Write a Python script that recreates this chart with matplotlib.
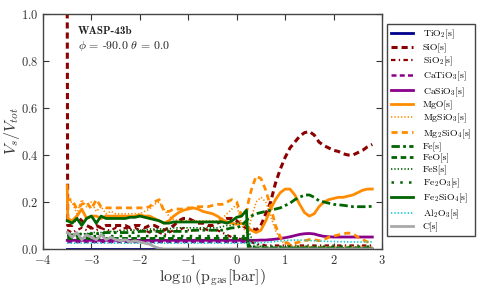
import numpy as np
import matplotlib
matplotlib.use("Agg")
import matplotlib.pyplot as plt

plt.rcParams['font.family'] = 'serif'
plt.rcParams['font.serif'] = ['cmr10']
plt.rcParams['mathtext.fontset'] = 'cm'
plt.rcParams['axes.formatter.use_mathtext'] = True
plt.rcParams['axes.unicode_minus'] = True

# log10 gas pressure grid [bar]
log_p = [-3.5, -3.49,
         -3.4, -3.3, -3.2, -3.1, -3.0, -2.9, -2.8, -2.7, -2.6, -2.5,
         -2.4, -2.3, -2.2, -2.1, -2.0, -1.9, -1.8, -1.7, -1.6, -1.5,
         -1.4, -1.3, -1.2, -1.1, -1.0, -0.9, -0.8, -0.7, -0.6, -0.5,
         -0.4, -0.3, -0.2, -0.1, 0.0, 0.1, 0.2, 0.24,
         0.3, 0.4, 0.5, 0.6, 0.7, 0.8, 0.9, 1.0, 1.1, 1.2,
         1.3, 1.4, 1.5, 1.6, 1.7, 1.8, 1.9, 2.0, 2.1, 2.2,
         2.3, 2.4, 2.5, 2.6, 2.7, 2.8]

TiO2 = [0.002, 0.002,
        0.002, 0.002, 0.002, 0.002, 0.002, 0.002, 0.002, 0.002, 0.002, 0.002,
        0.002, 0.002, 0.002, 0.002, 0.002, 0.002, 0.002, 0.002, 0.002, 0.002,
        0.002, 0.002, 0.002, 0.002, 0.002, 0.002, 0.002, 0.002, 0.002, 0.002,
        0.002, 0.002, 0.002, 0.002, 0.002, 0.002, 0.002, 0.002,
        0.002, 0.002, 0.002, 0.002, 0.002, 0.002, 0.002, 0.002, 0.002, 0.002,
        0.002, 0.002, 0.002, 0.002, 0.002, 0.002, 0.002, 0.002, 0.002, 0.002,
        0.002, 0.002, 0.002, 0.002, 0.002, 0.002]
SiO = [1.05, 0.10,
       0.10, 0.14, 0.12, 0.10, 0.09, 0.10, 0.09, 0.10, 0.10, 0.10,
       0.10, 0.10, 0.09, 0.10, 0.10, 0.09, 0.10, 0.10, 0.09, 0.08,
       0.09, 0.10, 0.12, 0.13, 0.13, 0.12, 0.11, 0.11, 0.10, 0.10,
       0.11, 0.12, 0.13, 0.13, 0.12, 0.10, 0.09, 0.09,
       0.09, 0.08, 0.10, 0.15, 0.20, 0.28, 0.34, 0.39, 0.43, 0.455,
       0.48, 0.495, 0.50, 0.485, 0.455, 0.44, 0.43, 0.42, 0.415, 0.405,
       0.40, 0.40, 0.41, 0.42, 0.435, 0.445]
SiO2 = [0.08, 0.08,
        0.07, 0.08, 0.09, 0.08, 0.09, 0.08, 0.09, 0.08, 0.08, 0.09,
        0.08, 0.09, 0.08, 0.09, 0.08, 0.08, 0.07, 0.08, 0.07, 0.06,
        0.07, 0.08, 0.08, 0.09, 0.08, 0.08, 0.08, 0.09, 0.08, 0.08,
        0.08, 0.07, 0.06, 0.05, 0.05, 0.04, 0.03, 0.03,
        0.03, 0.02, 0.02, 0.015, 0.015, 0.015, 0.015, 0.015, 0.015, 0.015,
        0.015, 0.015, 0.015, 0.015, 0.015, 0.015, 0.015, 0.015, 0.015, 0.015,
        0.015, 0.015, 0.015, 0.015, 0.015, 0.015]
CaTiO3 = [0.03, 0.03,
          0.03, 0.03, 0.03, 0.03, 0.03, 0.03, 0.03, 0.03, 0.03, 0.03,
          0.03, 0.03, 0.03, 0.03, 0.03, 0.03, 0.03, 0.03, 0.03, 0.03,
          0.03, 0.03, 0.03, 0.03, 0.03, 0.03, 0.03, 0.03, 0.03, 0.03,
          0.03, 0.03, 0.03, 0.03, 0.03, 0.03, 0.03, 0.02,
          0.005, 0.003, 0.002, 0.002, 0.002, 0.002, 0.002, 0.002, 0.002, 0.002,
          0.002, 0.002, 0.002, 0.002, 0.002, 0.002, 0.002, 0.002, 0.002, 0.002,
          0.002, 0.002, 0.002, 0.002, 0.002, 0.002]
CaSiO3 = [0.037, 0.037,
          0.037, 0.037, 0.037, 0.037, 0.037, 0.037, 0.037, 0.037, 0.037, 0.037,
          0.037, 0.037, 0.037, 0.037, 0.037, 0.037, 0.037, 0.037, 0.037, 0.037,
          0.037, 0.037, 0.037, 0.037, 0.037, 0.037, 0.037, 0.037, 0.037, 0.037,
          0.037, 0.037, 0.037, 0.037, 0.037, 0.037, 0.037, 0.037,
          0.037, 0.037, 0.038, 0.038, 0.040, 0.042, 0.045, 0.048, 0.052, 0.057,
          0.062, 0.065, 0.066, 0.064, 0.058, 0.054, 0.052, 0.051, 0.051, 0.051,
          0.051, 0.051, 0.051, 0.051, 0.051, 0.051]
MgO = [0.27, 0.13,
       0.12, 0.14, 0.17, 0.13, 0.14, 0.14, 0.13, 0.14, 0.14, 0.14,
       0.14, 0.14, 0.14, 0.14, 0.145, 0.14, 0.14, 0.13, 0.12, 0.11,
       0.12, 0.14, 0.155, 0.165, 0.17, 0.175, 0.17, 0.16, 0.155, 0.15,
       0.14, 0.125, 0.115, 0.11, 0.105, 0.11, 0.10, 0.09,
       0.08, 0.07, 0.08, 0.12, 0.17, 0.21, 0.24, 0.255, 0.255, 0.23,
       0.19, 0.155, 0.14, 0.15, 0.18, 0.20, 0.21, 0.215, 0.22, 0.22,
       0.225, 0.23, 0.24, 0.25, 0.255, 0.255]
MgSiO3 = [0.20, 0.20,
          0.20, 0.15, 0.21, 0.18, 0.20, 0.16, 0.18, 0.15, 0.16, 0.15,
          0.15, 0.15, 0.15, 0.15, 0.15, 0.16, 0.17, 0.19, 0.20, 0.17,
          0.14, 0.125, 0.12, 0.12, 0.12, 0.12, 0.12, 0.12, 0.12, 0.12,
          0.12, 0.13, 0.15, 0.17, 0.19, 0.10, 0.07, 0.08,
          0.13, 0.20, 0.22, 0.20, 0.14, 0.08, 0.04, 0.02, 0.015, 0.012,
          0.01, 0.01, 0.01, 0.01, 0.01, 0.01, 0.01, 0.01, 0.01, 0.01,
          0.01, 0.01, 0.01, 0.01, 0.01, 0.01]
Mg2SiO4 = [0.20, 0.21,
           0.21, 0.17, 0.19, 0.20, 0.17, 0.21, 0.18, 0.175, 0.175, 0.175,
           0.175, 0.175, 0.175, 0.175, 0.175, 0.175, 0.18, 0.20, 0.21, 0.16,
           0.16, 0.17, 0.17, 0.17, 0.175, 0.175, 0.18, 0.18, 0.18, 0.185,
           0.19, 0.19, 0.20, 0.21, 0.20, 0.14, 0.15, 0.20,
           0.25, 0.31, 0.30, 0.25, 0.18, 0.10, 0.05, 0.03, 0.02, 0.025,
           0.03, 0.035, 0.04, 0.04, 0.035, 0.04, 0.05, 0.055, 0.06, 0.065,
           0.068, 0.065, 0.05, 0.04, 0.03, 0.025]
Fe = [0.06, 0.06,
      0.06, 0.06, 0.065, 0.06, 0.065, 0.065, 0.065, 0.07, 0.07, 0.07,
      0.07, 0.07, 0.07, 0.07, 0.075, 0.075, 0.075, 0.075, 0.075, 0.075,
      0.075, 0.075, 0.075, 0.075, 0.075, 0.08, 0.08, 0.08, 0.08, 0.08,
      0.08, 0.08, 0.085, 0.09, 0.09, 0.10, 0.12, 0.13,
      0.14, 0.15, 0.155, 0.16, 0.165, 0.17, 0.175, 0.185, 0.195, 0.21,
      0.22, 0.23, 0.23, 0.22, 0.205, 0.20, 0.195, 0.19, 0.188, 0.186,
      0.183, 0.18, 0.18, 0.18, 0.18, 0.182]
FeO = [0.045, 0.045,
       0.045, 0.045, 0.045, 0.045, 0.045, 0.045, 0.045, 0.045, 0.045, 0.045,
       0.045, 0.045, 0.045, 0.045, 0.045, 0.045, 0.045, 0.045, 0.045, 0.045,
       0.045, 0.045, 0.045, 0.045, 0.045, 0.045, 0.045, 0.045, 0.045, 0.045,
       0.045, 0.045, 0.045, 0.045, 0.045, 0.045, 0.045, 0.02,
       0.005, 0.005, 0.005, 0.005, 0.005, 0.005, 0.005, 0.005, 0.005, 0.005,
       0.005, 0.005, 0.005, 0.005, 0.005, 0.005, 0.005, 0.005, 0.005, 0.005,
       0.005, 0.005, 0.005, 0.005, 0.005, 0.005]
FeS = [0.06, 0.06,
       0.06, 0.06, 0.065, 0.065, 0.07, 0.07, 0.07, 0.075, 0.075, 0.075,
       0.075, 0.08, 0.08, 0.08, 0.08, 0.08, 0.085, 0.085, 0.085, 0.085,
       0.085, 0.09, 0.09, 0.09, 0.09, 0.09, 0.09, 0.09, 0.09, 0.09,
       0.09, 0.095, 0.10, 0.10, 0.11, 0.11, 0.10, 0.08,
       0.05, 0.02, 0.01, 0.005, 0.005, 0.005, 0.005, 0.005, 0.005, 0.005,
       0.005, 0.005, 0.005, 0.005, 0.005, 0.005, 0.005, 0.005, 0.005, 0.005,
       0.005, 0.005, 0.005, 0.005, 0.005, 0.005]
Fe2O3 = [0.055, 0.055,
         0.055, 0.055, 0.055, 0.055, 0.055, 0.055, 0.055, 0.055, 0.055, 0.055,
         0.055, 0.055, 0.055, 0.055, 0.055, 0.055, 0.055, 0.055, 0.055, 0.055,
         0.055, 0.055, 0.055, 0.055, 0.055, 0.055, 0.055, 0.055, 0.055, 0.055,
         0.055, 0.055, 0.055, 0.055, 0.055, 0.055, 0.055, 0.03,
         0.01, 0.01, 0.01, 0.01, 0.01, 0.01, 0.01, 0.01, 0.01, 0.01,
         0.01, 0.01, 0.01, 0.01, 0.01, 0.01, 0.01, 0.01, 0.01, 0.01,
         0.01, 0.01, 0.01, 0.01, 0.01, 0.01]
Fe2SiO4 = [0.12, 0.12,
           0.11, 0.13, 0.10, 0.13, 0.14, 0.11, 0.14, 0.13, 0.13, 0.13,
           0.13, 0.13, 0.135, 0.135, 0.14, 0.135, 0.13, 0.125, 0.12, 0.11,
           0.11, 0.115, 0.115, 0.115, 0.115, 0.115, 0.115, 0.115, 0.115, 0.115,
           0.115, 0.115, 0.11, 0.12, 0.135, 0.14, 0.165, 0.0,
           0.0, 0.0, 0.0, 0.0, 0.0, 0.0, 0.0, 0.0, 0.0, 0.0,
           0.0, 0.0, 0.0, 0.0, 0.0, 0.0, 0.0, 0.0, 0.0, 0.0,
           0.0, 0.0, 0.0, 0.0, 0.0, 0.0]
Al2O3 = [0.025, 0.025,
         0.025, 0.025, 0.025, 0.025, 0.025, 0.025, 0.025, 0.025, 0.025, 0.025,
         0.025, 0.025, 0.025, 0.025, 0.025, 0.025, 0.025, 0.025, 0.025, 0.025,
         0.025, 0.025, 0.025, 0.025, 0.025, 0.025, 0.025, 0.025, 0.025, 0.025,
         0.025, 0.025, 0.025, 0.025, 0.025, 0.025, 0.025, 0.025,
         0.025, 0.026, 0.027, 0.028, 0.030, 0.032, 0.034, 0.036, 0.037, 0.038,
         0.038, 0.037, 0.036, 0.035, 0.034, 0.033, 0.032, 0.032, 0.031, 0.031,
         0.030, 0.030, 0.030, 0.030, 0.030, 0.030]
C = [0.07, 0.07,
     0.05, 0.07, 0.04, 0.06, 0.05, 0.04, 0.06, 0.04, 0.05, 0.04,
     0.035, 0.04, 0.03, 0.035, 0.03, 0.025, 0.02, 0.01, 0.003, 0.0,
     0.0, 0.0, 0.0, 0.0, 0.0, 0.0, 0.0, 0.0, 0.0, 0.0,
     0.0, 0.0, 0.0, 0.0, 0.0, 0.0, 0.0, 0.0,
     0.0, 0.0, 0.0, 0.0, 0.0, 0.0, 0.0, 0.0, 0.0, 0.0,
     0.0, 0.0, 0.0, 0.0, 0.0, 0.0, 0.0, 0.0, 0.0, 0.0,
     0.0, 0.0, 0.0, 0.0, 0.0, 0.0]

labels = [r'TiO$_2$[s]', r'SiO[s]', r'SiO$_2$[s]', r'CaTiO$_3$[s]', r'CaSiO$_3$[s]',
          r'MgO[s]', r'MgSiO$_3$[s]', r'Mg$_2$SiO$_4$[s]', r'Fe[s]', r'FeO[s]',
          r'FeS[s]', r'Fe$_2$O$_3$[s]', r'Fe$_2$SiO$_4$[s]', r'Al$_2$O$_3$[s]', r'C[s]']
series = [TiO2, SiO, SiO2, CaTiO3, CaSiO3, MgO, MgSiO3, Mg2SiO4, Fe, FeO,
          FeS, Fe2O3, Fe2SiO4, Al2O3, C]

navy = '#00008b'
red = '#8b0000'
purple = '#8b008b'
orange = '#ff8c00'
green = '#006400'
styles = [
    dict(color=navy, ls='-', lw=2),
    dict(color=red, ls=(0, (2, 1.3)), lw=2.2),
    dict(color=red, ls=(0, (2, 1.5, 0.6, 1.5)), lw=1.6),
    dict(color=purple, ls=(0, (2, 1.3)), lw=1.8),
    dict(color=purple, ls='-', lw=2),
    dict(color=orange, ls='-', lw=2),
    dict(color=orange, ls=(0, (0.8, 1.2)), lw=1.2),
    dict(color=orange, ls=(0, (2.2, 1.5)), lw=2),
    dict(color=green, ls=(0, (3, 1.2, 1, 1.2)), lw=2),
    dict(color=green, ls=(0, (2, 1.3)), lw=2),
    dict(color=green, ls=(0, (0.8, 1.2)), lw=1.2),
    dict(color=green, ls=(0, (1, 2.5)), lw=1.8),
    dict(color=green, ls='-', lw=2),
    dict(color='#00ced1', ls=(0, (0.8, 1.2)), lw=1.2),
    dict(color='#a9a9a9', ls='-', lw=2),
]

fig = plt.figure(figsize=(4.83, 2.90), dpi=100)
ax = fig.add_axes([43 / 483, 41 / 290, (382 - 43) / 483, (249 - 14) / 290])

for y, lab, st in zip(series, labels, styles):
    ax.plot(log_p, y, label=lab, **st)

ax.set_xlim(-4, 3)
ax.set_ylim(0, 1)
ax.set_xticks([-4, -3, -2, -1, 0, 1, 2, 3])
ax.set_yticks([0.0, 0.2, 0.4, 0.6, 0.8, 1.0])
ax.tick_params(direction='in', top=True, right=True, labelsize=9, colors='#333333',
               length=4, width=0.8)
ax.tick_params(axis='x', pad=3.5)
ax.tick_params(axis='y', pad=3)
for s in ax.spines.values():
    s.set_color('#444444')
    s.set_linewidth(1.0)

ax.set_xlabel(r'$\log_{10}(\mathrm{p_{gas}[bar]})$', fontsize=11.5, labelpad=0, color='#333333')
ax.set_ylabel(r'$V_s/V_{tot}$', fontsize=11.5, labelpad=0, color='#333333')
ax.yaxis.set_label_coords(-0.062, 0.5)

ax.text(-3.28, 0.915, 'WASP-43b', fontsize=8, family='cmb10', color='#222222')
ax.text(-3.28, 0.85, r'$\phi$ = -90.0 $\theta$ = 0.0', fontsize=8.5, color='#222222')

leg = ax.legend(loc='upper left', bbox_to_anchor=(387 / 483, 1 - 24 / 290),
                bbox_transform=fig.transFigure, borderaxespad=0, fontsize=7,
                fancybox=False, framealpha=1, edgecolor='#444444',
                handlelength=2.3, handletextpad=1.0, labelspacing=0.2,
                borderpad=0.4)
leg.get_frame().set_linewidth(1.0)

fig.savefig('out.png', dpi=100)
